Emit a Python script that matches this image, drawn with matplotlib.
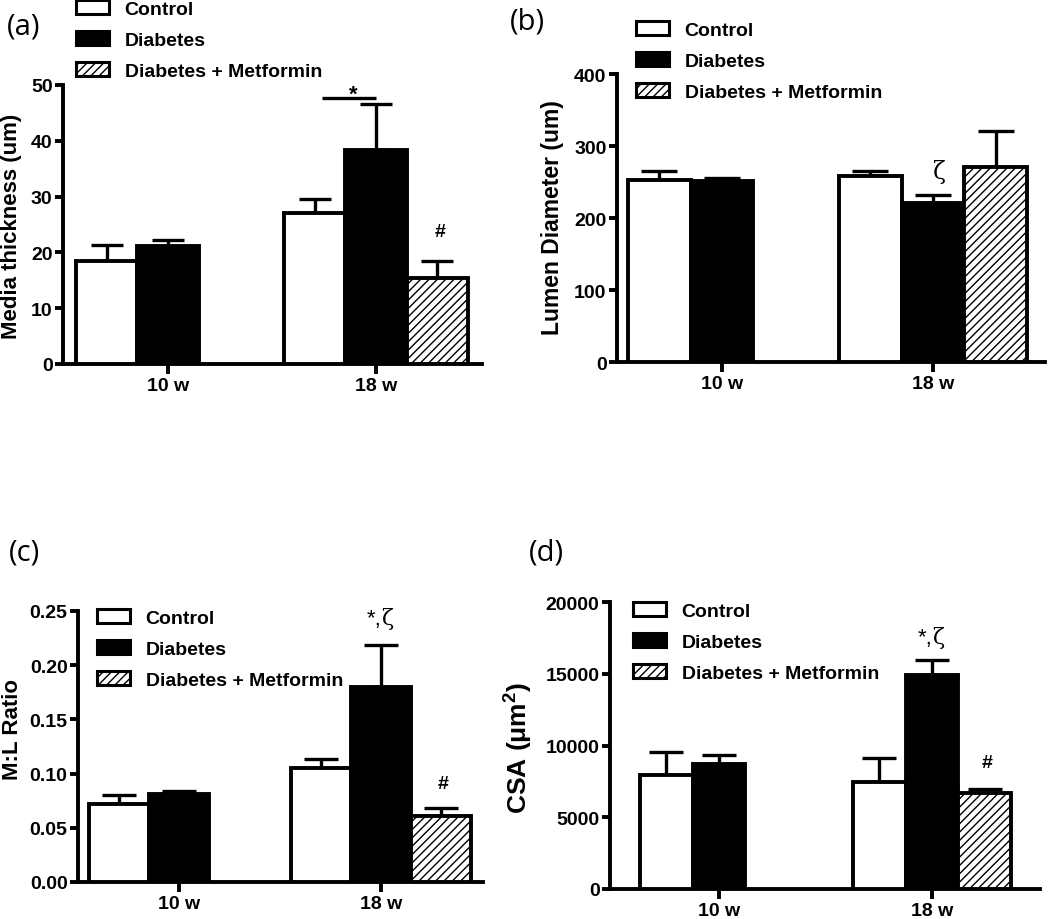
import numpy as np
import matplotlib
matplotlib.use('Agg')
import matplotlib.pyplot as plt
from matplotlib.patches import Patch

# ---------------- data ----------------
groups = ['10 w', '18 w']
series_names = ['Control', 'Diabetes', 'Diabetes + Metformin']

media_control = [18.5, 27.0]
media_control_err = [2.8, 2.6]
media_diabetes = [21.1, 38.3]
media_diabetes_err = [1.1, 8.3]
media_metformin = [np.nan, 15.4]
media_metformin_err = [np.nan, 3.1]

lumen_control = [253, 258]
lumen_control_err = [12, 7]
lumen_diabetes = [252, 221]
lumen_diabetes_err = [3, 11]
lumen_metformin = [np.nan, 271]
lumen_metformin_err = [np.nan, 50]

ml_control = [0.072, 0.105]
ml_control_err = [0.0085, 0.0085]
ml_diabetes = [0.0815, 0.180]
ml_diabetes_err = [0.0025, 0.039]
ml_metformin = [np.nan, 0.061]
ml_metformin_err = [np.nan, 0.0075]

csa_control = [7950, 7460]
csa_control_err = [1600, 1670]
csa_diabetes = [8710, 14900]
csa_diabetes_err = [630, 1060]
csa_metformin = [np.nan, 6690]
csa_metformin_err = [np.nan, 280]

# ---------------- style ----------------
plt.rcParams['font.family'] = ['Liberation Sans', 'DejaVu Sans']
plt.rcParams['font.weight'] = 'bold'
plt.rcParams['hatch.linewidth'] = 1.0
plt.rcParams['mathtext.fontset'] = 'custom'
plt.rcParams['mathtext.rm'] = 'Liberation Sans:bold'
plt.rcParams['mathtext.it'] = 'Liberation Sans:bold'
plt.rcParams['mathtext.bf'] = 'Liberation Sans:bold'

W, H = 1050, 920
fig = plt.figure(figsize=(W / 100, H / 100), dpi=100)

LW = 2.8
HATCH = '////'
fills = ['white', 'black', 'white']
hatches = [None, None, HATCH]


def fx(px):
    return px / W


def fy(py):
    return 1 - py / H


def panel(rect, xlim, width, means, errs, ylim, yticks, yfmt, capsize):
    ax = fig.add_axes(rect)
    x = np.arange(len(groups))
    offsets = [-width, 0, width]
    for k in range(3):
        m = np.array(means[k], dtype=float)
        e = np.array(errs[k], dtype=float)
        ok = ~np.isnan(m)
        ax.bar(x[ok] + offsets[k], m[ok], width, facecolor=fills[k],
               edgecolor='black', linewidth=LW, hatch=hatches[k], zorder=3)
        ax.errorbar(x[ok] + offsets[k], m[ok],
                    yerr=[np.zeros(ok.sum()), e[ok]], fmt='none',
                    ecolor='black', elinewidth=2.4, capsize=capsize,
                    capthick=2.4, zorder=2)
    ax.set_xlim(*xlim)
    ax.set_ylim(*ylim)
    ax.set_xticks(x)
    ax.set_xticklabels(groups)
    ax.set_yticks(yticks)
    ax.set_yticklabels([yfmt.format(v) for v in yticks])
    for s in ['top', 'right']:
        ax.spines[s].set_visible(False)
    for s in ['left', 'bottom']:
        ax.spines[s].set_linewidth(LW)
        ax.spines[s].set_capstyle('projecting')
    ax.tick_params(axis='y', length=6, width=LW, pad=1.5, labelsize=14)
    ax.tick_params(axis='x', length=7, width=LW, pad=2.5, labelsize=14)
    for lab in ax.get_xticklabels() + ax.get_yticklabels():
        lab.set_fontweight('bold')
    ax.patch.set_alpha(0)
    return ax


def legend(ax, x_px, y_px):
    handles = [Patch(facecolor=fills[k], edgecolor='black', linewidth=2.2,
                     hatch=hatches[k]) for k in range(3)]
    ax.legend(handles, series_names, loc='center left',
              bbox_to_anchor=(fx(x_px), fy(y_px)),
              bbox_transform=fig.transFigure, frameon=False,
              prop={'weight': 'bold', 'size': 14},
              handlelength=1.7, handleheight=0.7, handletextpad=0.8,
              labelspacing=0.68, borderpad=0, borderaxespad=0)


# (a) Media thickness
axa = panel([fx(63), fy(365), fx(482) - fx(63), fy(86) - fy(365)],
            (-0.505, 1.51), 0.295,
            [media_control, media_diabetes, media_metformin],
            [media_control_err, media_diabetes_err, media_metformin_err],
            (0, 50), [0, 10, 20, 30, 40, 50], '{:g}', 11.5)
axa.plot([0.74, 1.0], [47.7, 47.7], color='black', lw=2.4, zorder=4,
         solid_capstyle='butt')
axa.text(0.89, 47.4, '*', ha='center', va='baseline', fontsize=16, fontweight='bold')
axa.text(1.31, 23.7, '#', ha='center', va='center', fontsize=14, fontweight='bold')
legend(axa, 76, 41)

# (b) Lumen diameter
axb = panel([fx(617), fy(363), fx(1045) - fx(617), fy(75) - fy(363)],
            (-0.498, 1.531), 0.298,
            [lumen_control, lumen_diabetes, lumen_metformin],
            [lumen_control_err, lumen_diabetes_err, lumen_metformin_err],
            (0, 400), [0, 100, 200, 300, 400], '{:g}', 13)
axb.text(1.03, 265, 'ζ', ha='center', va='center', fontsize=17,
         fontweight='normal', family=['DejaVu Serif'])
legend(axb, 636, 62)

# (c) M:L ratio
axc = panel([fx(78), fy(883), fx(483) - fx(78), fy(612) - fy(883)],
            (-0.5, 1.505), 0.297,
            [ml_control, ml_diabetes, ml_metformin],
            [ml_control_err, ml_diabetes_err, ml_metformin_err],
            (0, 0.25), [0, 0.05, 0.10, 0.15, 0.20, 0.25], '{:.2f}', 12.5)
axc.text(1.0, 0.2435, '*,', ha='right', va='center', fontsize=16, fontweight='normal')
axc.text(1.0, 0.2435, 'ζ', ha='left', va='center', fontsize=16,
         fontweight='normal', family=['DejaVu Serif'])
axc.text(1.31, 0.0907, '#', ha='center', va='center', fontsize=14, fontweight='bold')
legend(axc, 97, 650)

# (d) CSA
axd = panel([fx(610), fy(890), fx(1040) - fx(610), fy(603) - fy(890)],
            (-0.512, 1.507), 0.248,
            [csa_control, csa_diabetes, csa_metformin],
            [csa_control_err, csa_diabetes_err, csa_metformin_err],
            (0, 20000), [0, 5000, 10000, 15000, 20000], '{:g}', 12)
axd.text(1.0, 17560, '*,', ha='right', va='center', fontsize=16, fontweight='normal')
axd.text(1.0, 17560, 'ζ', ha='left', va='center', fontsize=16,
         fontweight='normal', family=['DejaVu Serif'])
axd.text(1.26, 8850, '#', ha='center', va='center', fontsize=14, fontweight='bold')
legend(axd, 633, 643)

# y labels
fig.text(fx(12), fy(226), 'Media thickness (um)', rotation=90, ha='center',
         va='center', fontsize=16, fontweight='bold')
fig.text(fx(552), fy(218), 'Lumen Diameter (um)', rotation=90, ha='center',
         va='center', fontsize=16.5, fontweight='bold')
fig.text(fx(13), fy(729), 'M:L Ratio', rotation=90, ha='center',
         va='center', fontsize=16, fontweight='bold')
fig.text(fx(519), fy(748), 'CSA (μm$^{2}$)', rotation=90, ha='center',
         va='center', fontsize=19, fontweight='bold')

# panel letters
for lab, (px, py) in {'(a)': (24, 27), '(b)': (527, 22),
                      '(c)': (24, 553), '(d)': (546, 553)}.items():
    fig.text(fx(px), fy(py), lab, ha='center', va='center', fontsize=21,
             fontweight='normal', family=['Open Sans', 'DejaVu Sans'])

fig.savefig('out.png', dpi=100)
